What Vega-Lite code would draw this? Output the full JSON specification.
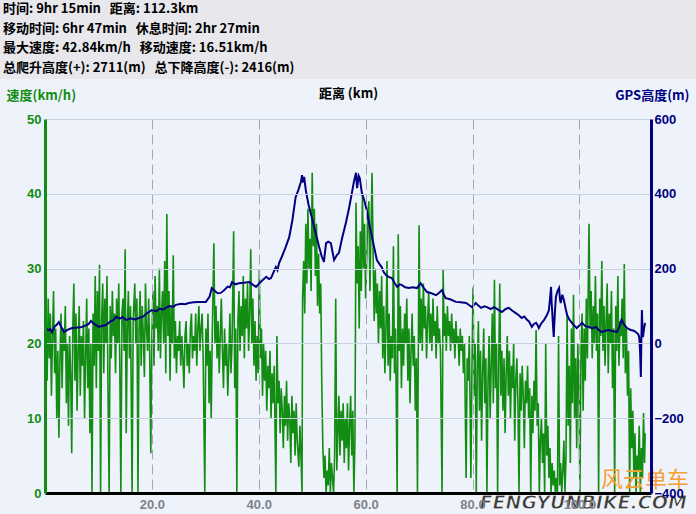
{
"$schema":"https://vega.github.io/schema/vega-lite/v6.json",
"background":"#eef3fb",
"padding":0,
"spacing":40,
"center":true,
"bounds":"flush",
"config":{"view":{"stroke":null},"font":"Liberation Sans"},
"datasets":{
"speed":[
{"d":0.2,"v":22},{"d":0.4,"v":15},{"d":0.6,"v":26},{"d":0.8,"v":18},{"d":1.0,"v":24},{"d":1.2,"v":13},{"d":1.4,"v":21},{"d":1.6,"v":27},{"d":1.8,"v":16},{"d":2.0,"v":22},{"d":2.2,"v":10},{"d":2.4,"v":19},{"d":2.6,"v":7.4},{"d":2.8,"v":18},{"d":3.0,"v":24},{"d":3.2,"v":14},{"d":3.4,"v":22},{"d":3.6,"v":19},{"d":3.8,"v":25},{"d":4.0,"v":12},{"d":4.2,"v":20},{"d":4.4,"v":9},{"d":4.6,"v":21},{"d":4.8,"v":16},{"d":5.0,"v":5.3},{"d":5.2,"v":22},{"d":5.4,"v":28},{"d":5.6,"v":15},{"d":5.8,"v":24},{"d":6.0,"v":11},{"d":6.2,"v":19},{"d":6.4,"v":25},{"d":6.6,"v":13},{"d":6.8,"v":21},{"d":7.0,"v":17},{"d":7.2,"v":23},{"d":7.4,"v":10},{"d":7.6,"v":18},{"d":7.8,"v":26},{"d":8.0,"v":14},{"d":8.2,"v":22},{"d":8.4,"v":8},{"d":8.6,"v":20},{"d":8.8,"v":0},{"d":9.0,"v":24},{"d":9.2,"v":17},{"d":9.4,"v":29},{"d":9.6,"v":14},{"d":9.8,"v":27},{"d":10.0,"v":19},{"d":10.2,"v":30.5},{"d":10.4,"v":0},{"d":10.6,"v":23},{"d":10.8,"v":28},{"d":11.0,"v":16},{"d":11.2,"v":26},{"d":11.4,"v":20},{"d":11.6,"v":29},{"d":11.8,"v":13},{"d":12.0,"v":0},{"d":12.2,"v":25},{"d":12.4,"v":18},{"d":12.6,"v":27},{"d":12.8,"v":21},{"d":13.0,"v":24},{"d":13.2,"v":16},{"d":13.4,"v":26},{"d":13.6,"v":20},{"d":13.8,"v":28},{"d":14.0,"v":17},{"d":14.2,"v":0},{"d":14.4,"v":24},{"d":14.6,"v":26},{"d":14.8,"v":19},{"d":15.0,"v":32.6},{"d":15.2,"v":8},{"d":15.4,"v":22},{"d":15.6,"v":27},{"d":15.8,"v":18},{"d":16.0,"v":25},{"d":16.3,"v":0},{"d":16.5,"v":23},{"d":16.8,"v":28},{"d":17.0,"v":20},{"d":17.2,"v":26},{"d":17.4,"v":0},{"d":17.6,"v":22},{"d":17.8,"v":27},{"d":18.0,"v":17},{"d":18.2,"v":25},{"d":18.4,"v":21},{"d":18.6,"v":15.5},{"d":18.8,"v":28},{"d":19.0,"v":22},{"d":19.2,"v":19},{"d":19.4,"v":26},{"d":19.6,"v":18},{"d":19.8,"v":5.3},{"d":20.0,"v":21},{"d":20.2,"v":27},{"d":20.4,"v":17},{"d":20.6,"v":29},{"d":20.8,"v":22},{"d":21.0,"v":25},{"d":21.2,"v":19},{"d":21.4,"v":30},{"d":21.6,"v":18},{"d":21.8,"v":24},{"d":22.0,"v":27},{"d":22.2,"v":20},{"d":22.4,"v":31},{"d":22.6,"v":16},{"d":22.8,"v":37.3},{"d":23.0,"v":21},{"d":23.2,"v":27},{"d":23.4,"v":15},{"d":23.6,"v":25},{"d":23.8,"v":20},{"d":24.0,"v":31.8},{"d":24.2,"v":18},{"d":24.4,"v":23},{"d":24.6,"v":16},{"d":24.8,"v":21},{"d":25.0,"v":19},{"d":25.2,"v":23},{"d":25.4,"v":17},{"d":25.6,"v":21},{"d":25.8,"v":18},{"d":26.0,"v":14},{"d":26.2,"v":21},{"d":26.4,"v":23},{"d":26.6,"v":17},{"d":26.8,"v":20},{"d":27.0,"v":16},{"d":27.2,"v":22},{"d":27.4,"v":24},{"d":27.6,"v":18},{"d":27.8,"v":21},{"d":28.0,"v":19},{"d":28.2,"v":24},{"d":28.4,"v":17},{"d":28.6,"v":22},{"d":28.8,"v":25},{"d":29.0,"v":19},{"d":29.2,"v":22},{"d":29.4,"v":24},{"d":29.6,"v":18},{"d":29.9,"v":0},{"d":30.1,"v":22},{"d":30.3,"v":17},{"d":30.5,"v":24},{"d":30.7,"v":12},{"d":30.9,"v":19},{"d":31.1,"v":10},{"d":31.3,"v":21},{"d":31.6,"v":33.4},{"d":31.8,"v":20},{"d":32.0,"v":25},{"d":32.2,"v":18},{"d":32.4,"v":23},{"d":32.6,"v":16},{"d":32.8,"v":21},{"d":33.0,"v":26},{"d":33.2,"v":19},{"d":33.4,"v":14},{"d":33.6,"v":22},{"d":33.8,"v":17},{"d":34.0,"v":20},{"d":34.2,"v":13},{"d":34.4,"v":18},{"d":34.6,"v":24},{"d":34.8,"v":16},{"d":35.0,"v":20},{"d":35.3,"v":35},{"d":35.5,"v":14},{"d":35.7,"v":22},{"d":35.9,"v":0},{"d":36.1,"v":23},{"d":36.3,"v":27},{"d":36.5,"v":19},{"d":36.7,"v":25},{"d":36.9,"v":21},{"d":37.1,"v":29},{"d":37.3,"v":18},{"d":37.5,"v":26},{"d":37.7,"v":22},{"d":37.9,"v":28},{"d":38.1,"v":19},{"d":38.3,"v":24},{"d":38.5,"v":32.6},{"d":38.7,"v":20},{"d":38.9,"v":26},{"d":39.1,"v":17},{"d":39.3,"v":23},{"d":39.5,"v":15},{"d":39.7,"v":21},{"d":39.9,"v":16},{"d":40.1,"v":29.8},{"d":40.3,"v":18},{"d":40.5,"v":22},{"d":40.7,"v":13},{"d":40.9,"v":20},{"d":41.1,"v":15},{"d":41.3,"v":19},{"d":41.5,"v":11},{"d":41.7,"v":17},{"d":41.9,"v":14},{"d":42.1,"v":19},{"d":42.3,"v":10},{"d":42.5,"v":16},{"d":42.7,"v":12},{"d":42.9,"v":17},{"d":43.2,"v":0},{"d":43.4,"v":21},{"d":43.6,"v":12},{"d":43.8,"v":15},{"d":44.0,"v":8},{"d":44.2,"v":14},{"d":44.4,"v":11},{"d":44.6,"v":6},{"d":44.8,"v":13},{"d":45.0,"v":9},{"d":45.2,"v":15},{"d":45.4,"v":7},{"d":45.6,"v":12},{"d":45.8,"v":10},{"d":46.0,"v":4},{"d":46.2,"v":13},{"d":46.4,"v":8},{"d":46.6,"v":11},{"d":46.8,"v":5},{"d":47.0,"v":12},{"d":47.2,"v":7},{"d":47.5,"v":3.5},{"d":47.7,"v":9},{"d":47.9,"v":5},{"d":48.1,"v":0},{"d":48.2,"v":26},{"d":48.4,"v":31},{"d":48.6,"v":24},{"d":48.8,"v":36},{"d":49.0,"v":28},{"d":49.2,"v":38},{"d":49.4,"v":30},{"d":49.6,"v":34},{"d":49.8,"v":27},{"d":50.0,"v":42.8},{"d":50.2,"v":33},{"d":50.4,"v":38},{"d":50.6,"v":29},{"d":50.8,"v":36},{"d":51.0,"v":25},{"d":51.2,"v":32},{"d":51.4,"v":24},{"d":51.6,"v":28},{"d":51.8,"v":14},{"d":52.0,"v":6},{"d":52.2,"v":2},{"d":52.4,"v":5},{"d":52.6,"v":0},{"d":52.8,"v":3},{"d":53.0,"v":1},{"d":53.2,"v":6},{"d":53.4,"v":0},{"d":53.6,"v":4},{"d":53.8,"v":2},{"d":54.0,"v":0},{"d":54.2,"v":5},{"d":54.4,"v":26},{"d":54.6,"v":3},{"d":54.8,"v":8},{"d":55.0,"v":13},{"d":55.2,"v":5},{"d":55.4,"v":11},{"d":55.6,"v":7},{"d":55.8,"v":12},{"d":56.0,"v":4},{"d":56.2,"v":10},{"d":56.4,"v":6},{"d":56.6,"v":12},{"d":56.8,"v":3},{"d":57.0,"v":9},{"d":57.2,"v":13},{"d":57.4,"v":5},{"d":57.6,"v":11},{"d":57.8,"v":0},{"d":58.0,"v":7},{"d":58.2,"v":38.8},{"d":58.4,"v":28},{"d":58.6,"v":33},{"d":58.8,"v":22},{"d":59.0,"v":35},{"d":59.2,"v":27},{"d":59.4,"v":40},{"d":59.6,"v":30},{"d":59.8,"v":36},{"d":60.0,"v":26},{"d":60.2,"v":31},{"d":60.4,"v":37},{"d":60.6,"v":39},{"d":60.8,"v":27},{"d":61.0,"v":35},{"d":61.2,"v":42.8},{"d":61.4,"v":32},{"d":61.6,"v":23},{"d":61.8,"v":30},{"d":62.0,"v":24},{"d":62.2,"v":28},{"d":62.4,"v":20},{"d":62.6,"v":27},{"d":62.8,"v":22},{"d":63.0,"v":29},{"d":63.2,"v":18},{"d":63.4,"v":25},{"d":63.6,"v":16},{"d":63.8,"v":22},{"d":64.0,"v":31},{"d":64.2,"v":17},{"d":64.4,"v":24},{"d":64.6,"v":15},{"d":64.8,"v":21},{"d":65.0,"v":18},{"d":65.2,"v":33},{"d":65.4,"v":16},{"d":65.6,"v":22},{"d":65.9,"v":0},{"d":66.1,"v":34.6},{"d":66.3,"v":19},{"d":66.5,"v":25},{"d":66.7,"v":14},{"d":66.9,"v":22},{"d":67.1,"v":17},{"d":67.3,"v":24},{"d":67.5,"v":20},{"d":67.7,"v":26},{"d":67.9,"v":15},{"d":68.1,"v":22},{"d":68.3,"v":12},{"d":68.5,"v":19},{"d":68.7,"v":24},{"d":68.9,"v":17},{"d":69.1,"v":21},{"d":69.3,"v":11},{"d":69.5,"v":18},{"d":69.7,"v":0},{"d":70.0,"v":35.8},{"d":70.2,"v":20},{"d":70.4,"v":26},{"d":70.6,"v":19},{"d":70.8,"v":28},{"d":71.0,"v":22},{"d":71.2,"v":25},{"d":71.4,"v":18},{"d":71.6,"v":23},{"d":71.8,"v":27},{"d":72.0,"v":20},{"d":72.2,"v":24},{"d":72.4,"v":19},{"d":72.6,"v":26},{"d":72.8,"v":21},{"d":73.0,"v":23},{"d":73.2,"v":18},{"d":73.4,"v":25},{"d":73.6,"v":20},{"d":73.8,"v":22},{"d":74.0,"v":19},{"d":74.3,"v":0},{"d":74.5,"v":29.8},{"d":74.7,"v":21},{"d":74.9,"v":24},{"d":75.1,"v":19},{"d":75.3,"v":25},{"d":75.5,"v":21},{"d":75.7,"v":23},{"d":75.9,"v":19},{"d":76.1,"v":24},{"d":76.3,"v":20},{"d":76.5,"v":22},{"d":76.7,"v":18},{"d":76.9,"v":23},{"d":77.1,"v":20},{"d":77.3,"v":21},{"d":77.5,"v":17},{"d":77.7,"v":22},{"d":77.9,"v":19},{"d":78.1,"v":21},{"d":78.3,"v":16},{"d":78.5,"v":20},{"d":78.8,"v":2},{"d":79.0,"v":18},{"d":79.2,"v":15},{"d":79.4,"v":21},{"d":79.7,"v":2},{"d":79.9,"v":17},{"d":80.1,"v":27.5},{"d":80.3,"v":13},{"d":80.5,"v":20},{"d":80.7,"v":0},{"d":80.9,"v":17},{"d":81.1,"v":23},{"d":81.3,"v":11},{"d":81.5,"v":19},{"d":81.7,"v":7},{"d":81.9,"v":16},{"d":82.1,"v":22},{"d":82.3,"v":12},{"d":82.5,"v":18},{"d":82.7,"v":0},{"d":82.9,"v":15},{"d":83.1,"v":21},{"d":83.3,"v":10},{"d":83.5,"v":17},{"d":83.7,"v":24},{"d":83.9,"v":12},{"d":84.1,"v":28.5},{"d":84.3,"v":14},{"d":84.5,"v":20},{"d":84.7,"v":0},{"d":84.9,"v":17},{"d":85.1,"v":28},{"d":85.3,"v":13},{"d":85.5,"v":19},{"d":85.7,"v":11},{"d":85.9,"v":18},{"d":86.1,"v":8},{"d":86.3,"v":16},{"d":86.5,"v":21},{"d":86.7,"v":13},{"d":86.9,"v":19},{"d":87.1,"v":10},{"d":87.3,"v":17},{"d":87.5,"v":14},{"d":87.7,"v":20},{"d":87.9,"v":7},{"d":88.1,"v":15},{"d":88.3,"v":18},{"d":88.5,"v":12},{"d":88.7,"v":0},{"d":88.9,"v":16},{"d":89.1,"v":11},{"d":89.3,"v":17},{"d":89.5,"v":13},{"d":89.7,"v":6},{"d":89.9,"v":15},{"d":90.1,"v":12},{"d":90.3,"v":17},{"d":90.5,"v":10},{"d":90.7,"v":14},{"d":90.9,"v":0},{"d":91.1,"v":13},{"d":91.3,"v":8},{"d":91.5,"v":15},{"d":91.7,"v":11},{"d":91.9,"v":21.8},{"d":92.1,"v":9},{"d":92.3,"v":12},{"d":92.5,"v":0},{"d":92.7,"v":7},{"d":92.9,"v":10},{"d":93.1,"v":4},{"d":93.3,"v":8},{"d":93.5,"v":0},{"d":93.7,"v":20},{"d":93.9,"v":5},{"d":94.1,"v":9},{"d":94.3,"v":2},{"d":94.5,"v":6},{"d":94.7,"v":0},{"d":94.9,"v":4},{"d":95.1,"v":1},{"d":95.3,"v":3},{"d":95.5,"v":0},{"d":95.7,"v":2},{"d":95.9,"v":0},{"d":96.1,"v":21},{"d":96.3,"v":1},{"d":96.5,"v":4},{"d":96.7,"v":0},{"d":96.9,"v":3},{"d":97.1,"v":7},{"d":97.3,"v":0},{"d":97.5,"v":5},{"d":97.7,"v":24},{"d":97.9,"v":9},{"d":98.1,"v":17},{"d":98.3,"v":4},{"d":98.5,"v":22},{"d":98.7,"v":12},{"d":98.9,"v":26.5},{"d":99.1,"v":10},{"d":99.3,"v":18},{"d":99.5,"v":6},{"d":99.7,"v":20},{"d":99.9,"v":14},{"d":100.1,"v":0},{"d":100.3,"v":19},{"d":100.5,"v":24},{"d":100.7,"v":11},{"d":100.9,"v":22},{"d":101.1,"v":15},{"d":101.3,"v":26},{"d":101.5,"v":18},{"d":101.8,"v":36},{"d":102.0,"v":22},{"d":102.2,"v":27},{"d":102.4,"v":18},{"d":102.6,"v":25},{"d":102.8,"v":20},{"d":103.0,"v":29},{"d":103.2,"v":19},{"d":103.4,"v":24},{"d":103.6,"v":0},{"d":103.8,"v":26},{"d":104.0,"v":21},{"d":104.2,"v":31},{"d":104.4,"v":19},{"d":104.6,"v":25},{"d":104.8,"v":17},{"d":105.0,"v":23},{"d":105.2,"v":28},{"d":105.4,"v":16},{"d":105.6,"v":24},{"d":105.8,"v":20},{"d":106.0,"v":27},{"d":106.2,"v":14},{"d":106.4,"v":22},{"d":106.6,"v":0},{"d":106.8,"v":25},{"d":107.0,"v":19},{"d":107.2,"v":29},{"d":107.4,"v":17},{"d":107.6,"v":23},{"d":107.8,"v":21},{"d":108.0,"v":26},{"d":108.2,"v":18},{"d":108.4,"v":30.6},{"d":108.6,"v":16},{"d":108.8,"v":22},{"d":109.0,"v":13},{"d":109.2,"v":19},{"d":109.4,"v":0},{"d":109.6,"v":14},{"d":109.8,"v":6},{"d":110.0,"v":11},{"d":110.2,"v":2},{"d":110.4,"v":8},{"d":110.6,"v":0},{"d":110.8,"v":5},{"d":111.0,"v":3},{"d":111.2,"v":9},{"d":111.4,"v":0},{"d":111.6,"v":6},{"d":111.8,"v":2},{"d":112.0,"v":10.7},{"d":112.2,"v":4},{"d":112.3,"v":8}
],
"elev":[
{"d":0.2,"e":41},{"d":0.6,"e":35},{"d":1.0,"e":38},{"d":1.3,"e":30},{"d":1.8,"e":45},{"d":2.2,"e":50},{"d":2.6,"e":57},{"d":3.0,"e":45},{"d":3.55,"e":30},{"d":4.2,"e":36},{"d":5.05,"e":41},{"d":5.8,"e":42},{"d":6.9,"e":44},{"d":7.6,"e":48},{"d":8.2,"e":52},{"d":8.6,"e":60},{"d":9.2,"e":52},{"d":10.1,"e":44},{"d":10.8,"e":47},{"d":11.4,"e":49},{"d":12.2,"e":58},{"d":12.8,"e":62},{"d":13.3,"e":71},{"d":14.0,"e":66},{"d":14.5,"e":70},{"d":15.2,"e":63},{"d":16.0,"e":67},{"d":16.8,"e":64},{"d":17.6,"e":68},{"d":18.4,"e":72},{"d":19.2,"e":82},{"d":20.0,"e":89},{"d":20.8,"e":86},{"d":21.5,"e":93},{"d":22.0,"e":90},{"d":22.6,"e":95},{"d":23.3,"e":100},{"d":24.0,"e":98},{"d":24.5,"e":103},{"d":25.5,"e":106},{"d":26.2,"e":105},{"d":26.9,"e":108},{"d":27.8,"e":110},{"d":28.8,"e":111},{"d":30.1,"e":111},{"d":30.8,"e":125},{"d":31.2,"e":148},{"d":31.8,"e":140},{"d":32.3,"e":134},{"d":32.9,"e":135},{"d":33.5,"e":142},{"d":34.2,"e":152},{"d":34.6,"e":150},{"d":35.0,"e":164},{"d":35.6,"e":158},{"d":36.3,"e":161},{"d":37.2,"e":162},{"d":38.2,"e":164},{"d":38.8,"e":158},{"d":39.5,"e":151},{"d":40.2,"e":162},{"d":40.8,"e":170},{"d":41.4,"e":178},{"d":41.9,"e":172},{"d":42.3,"e":175},{"d":42.7,"e":188},{"d":43.2,"e":204},{"d":43.5,"e":196},{"d":43.8,"e":215},{"d":44.3,"e":231},{"d":45.0,"e":256},{"d":45.7,"e":284},{"d":46.3,"e":330},{"d":46.9,"e":391},{"d":47.4,"e":410},{"d":47.9,"e":432},{"d":48.1,"e":450},{"d":48.3,"e":430},{"d":48.5,"e":445},{"d":48.8,"e":410},{"d":49.3,"e":372},{"d":49.9,"e":338},{"d":50.6,"e":298},{"d":51.3,"e":258},{"d":51.8,"e":232},{"d":52.2,"e":218},{"d":52.4,"e":245},{"d":52.6,"e":268},{"d":53.0,"e":272},{"d":53.5,"e":268},{"d":53.8,"e":245},{"d":54.1,"e":223},{"d":54.4,"e":230},{"d":54.6,"e":236},{"d":55.0,"e":242},{"d":55.6,"e":282},{"d":56.3,"e":322},{"d":56.9,"e":362},{"d":57.4,"e":400},{"d":57.8,"e":432},{"d":58.2,"e":456},{"d":58.4,"e":415},{"d":58.7,"e":448},{"d":58.9,"e":442},{"d":59.3,"e":402},{"d":59.7,"e":385},{"d":60.2,"e":357},{"d":60.7,"e":318},{"d":61.2,"e":284},{"d":61.7,"e":250},{"d":62.1,"e":223},{"d":62.6,"e":212},{"d":63.0,"e":204},{"d":63.4,"e":190},{"d":63.8,"e":183},{"d":64.3,"e":178},{"d":64.9,"e":175},{"d":65.4,"e":162},{"d":65.9,"e":151},{"d":66.4,"e":158},{"d":66.8,"e":156},{"d":67.4,"e":150},{"d":68.1,"e":148},{"d":68.8,"e":150},{"d":69.6,"e":148},{"d":70.0,"e":155},{"d":70.3,"e":161},{"d":70.9,"e":148},{"d":71.5,"e":137},{"d":72.3,"e":134},{"d":73.2,"e":129},{"d":73.8,"e":136},{"d":74.3,"e":143},{"d":74.7,"e":128},{"d":75.0,"e":121},{"d":75.8,"e":118},{"d":76.9,"e":111},{"d":77.8,"e":110},{"d":78.8,"e":108},{"d":79.4,"e":102},{"d":79.9,"e":97},{"d":80.6,"e":108},{"d":81.1,"e":101},{"d":81.6,"e":95},{"d":82.2,"e":99},{"d":82.7,"e":97},{"d":83.4,"e":92},{"d":84.0,"e":97},{"d":84.5,"e":93},{"d":84.9,"e":89},{"d":85.5,"e":84},{"d":86.2,"e":92},{"d":86.8,"e":95},{"d":87.4,"e":88},{"d":88.1,"e":81},{"d":88.6,"e":76},{"d":89.2,"e":68},{"d":89.7,"e":72},{"d":90.2,"e":63},{"d":90.6,"e":58},{"d":91.1,"e":44},{"d":91.5,"e":52},{"d":91.9,"e":55},{"d":92.2,"e":48},{"d":92.4,"e":41},{"d":92.8,"e":52},{"d":93.4,"e":63},{"d":93.9,"e":75},{"d":94.3,"e":89},{"d":94.5,"e":120},{"d":94.7,"e":151},{"d":94.8,"e":110},{"d":94.9,"e":89},{"d":95.05,"e":50},{"d":95.2,"e":17},{"d":95.4,"e":80},{"d":95.6,"e":124},{"d":95.9,"e":140},{"d":96.2,"e":148},{"d":96.35,"e":120},{"d":96.5,"e":108},{"d":96.8,"e":130},{"d":97.1,"e":116},{"d":97.4,"e":95},{"d":97.7,"e":76},{"d":98.1,"e":64},{"d":98.6,"e":55},{"d":99.0,"e":48},{"d":99.5,"e":41},{"d":100.0,"e":48},{"d":100.5,"e":55},{"d":101.1,"e":46},{"d":101.8,"e":44},{"d":102.4,"e":40},{"d":103.1,"e":44},{"d":103.6,"e":36},{"d":104.2,"e":30},{"d":104.8,"e":34},{"d":105.5,"e":36},{"d":106.2,"e":33},{"d":107.0,"e":30},{"d":107.5,"e":45},{"d":107.9,"e":63},{"d":108.4,"e":50},{"d":108.9,"e":41},{"d":109.6,"e":36},{"d":110.2,"e":34},{"d":110.6,"e":30},{"d":111.0,"e":25},{"d":111.2,"e":17},{"d":111.35,"e":-20},{"d":111.5,"e":-90},{"d":111.6,"e":10},{"d":111.7,"e":89},{"d":111.8,"e":40},{"d":111.9,"e":17},{"d":112.1,"e":40},{"d":112.3,"e":55}
]
},
"vconcat":[
{
"width":696,"height":79,
"view":{"fill":"#e7e7ec","stroke":null},
"data":{"values":[
{"row":0,"t":"时间: 9hr 15min\u00a0\u00a0\u00a0距离: 112.3km"},
{"row":1,"t":"移动时间: 6hr 47min\u00a0\u00a0\u00a0休息时间: 2hr 27min"},
{"row":2,"t":"最大速度: 42.84km/h\u00a0\u00a0\u00a0移动速度: 16.51km/h"},
{"row":3,"t":"总爬升高度(+): 2711(m)\u00a0\u00a0\u00a0总下降高度(-): 2416(m)"}
]},
"mark":{"type":"text","align":"left","baseline":"middle","font":"Noto Sans CJK SC","fontWeight":"bold","fontSize":13,"color":"#000000","dx":3,"dy":-1},
"encoding":{
"x":{"datum":0,"type":"quantitative","scale":{"domain":[0,1]},"axis":null},
"y":{"field":"row","type":"ordinal","scale":{"type":"point","padding":0.5},"axis":null},
"text":{"field":"t"}
}
},
{
"width":606,"height":374,
"view":{"fill":"#eef3fb","stroke":null},
"layer":[
{
"data":{"name":"speed"},
"mark":{"type":"line","color":"#128c12","strokeWidth":1.6,"clip":true},
"encoding":{
"x":{"field":"d","type":"quantitative","scale":{"domain":[0,113.4],"nice":false,"zero":false},
"axis":{"orient":"bottom","title":null,"values":[20,40,60,80,100],"format":".1f","labelColor":"#80808c","labelFont":"Liberation Sans","labelFontWeight":"bold","labelFontSize":13,"labelPadding":5,"ticks":false,"domainColor":"#000000","domainWidth":3,"grid":true,"gridColor":"#a4a8b4","gridDash":[10,5],"gridWidth":1,"zindex":1}},
"y":{"field":"v","type":"quantitative","scale":{"domain":[0,50],"nice":false},
"axis":{"orient":"left","values":[0,10,20,30,40,50],"title":"速度(km/h)","titleAngle":0,"titleAlign":"left","titleBaseline":"middle","titleX":-39,"titleY":-24,"titleColor":"#128c12","titleFont":"Noto Sans CJK SC","titleFontSize":13,"titleFontWeight":"bold","labelColor":"#128c12","labelFont":"Liberation Sans","labelFontWeight":"bold","labelFontSize":13,"labelPadding":4,"ticks":false,"domainColor":"#128c12","domainWidth":3,"grid":true,"gridColor":"#c9d1de","gridWidth":1,"zindex":1}}
}
},
{
"data":{"name":"elev"},
"mark":{"type":"line","color":"#000080","strokeWidth":2},
"encoding":{
"x":{"field":"d","type":"quantitative","axis":{"orient":"top","title":"距离 (km)","labels":false,"ticks":false,"domain":false,"grid":false,"titleFont":"Noto Sans CJK SC","titleFontWeight":"bold","titleFontSize":13,"titleColor":"#000000","titleBaseline":"middle","titleY":-26}},
"y":{"field":"e","type":"quantitative","scale":{"domain":[-400,600],"nice":false},
"axis":{"orient":"right","values":[-400,-200,0,200,400,600],"title":"GPS高度(m)","titleAngle":0,"titleAlign":"right","titleBaseline":"middle","titleX":38,"titleY":-24,"titleColor":"#000080","titleFont":"Noto Sans CJK SC","titleFontSize":13,"titleFontWeight":"bold","labelColor":"#000080","labelFont":"Liberation Sans","labelFontWeight":"bold","labelFontSize":13,"labelPadding":3,"ticks":false,"domainColor":"#000080","domainWidth":3,"grid":false,"zindex":1}}
}
},
{
"data":{"values":[{}]},
"mark":{"type":"text","text":"风云单车","align":"right","baseline":"middle","font":"Noto Sans CJK SC","fontSize":22,"color":"#f5a033","clip":false},
"encoding":{"x":{"datum":120.5,"type":"quantitative","axis":null},"y":{"datum":1.7,"type":"quantitative","scale":{"domain":[0,50],"nice":false},"axis":null}}
},
{
"data":{"values":[{}]},
"mark":{"type":"text","text":"FENGYUNBIKE.COM","align":"right","baseline":"middle","font":"DejaVu Sans","fontSize":19,"fontWeight":"bold","fontStyle":"italic","color":"#3c3c3c","stroke":"#ffffff","strokeWidth":0.8,"clip":false},
"encoding":{"x":{"datum":120.1,"type":"quantitative","axis":null},"y":{"datum":-1.4,"type":"quantitative","scale":{"domain":[0,50],"nice":false},"axis":null}}
}
],
"resolve":{"scale":{"y":"independent"},"axis":{"x":"independent"}}
}
]
}
